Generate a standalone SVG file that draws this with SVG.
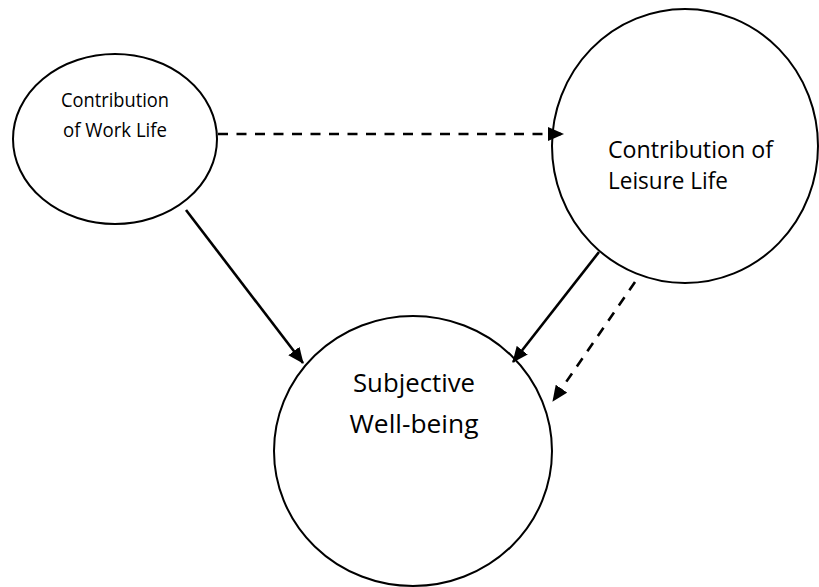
<svg xmlns="http://www.w3.org/2000/svg" width="819" height="587" viewBox="0 0 819 587">
<style>
.node{fill:#fff;stroke:#000;stroke-width:2}
.lbl{font-family:"Open Sans","Noto Sans",sans-serif;fill:#000}
.edge{stroke:#000;stroke-width:2.6;fill:none}
.dash{stroke-dasharray:10,8.5}
</style>
<defs>
<marker id="ah" markerUnits="userSpaceOnUse" markerWidth="16" markerHeight="14" viewBox="0 0 16 14" refX="15" refY="7" orient="auto">
<path d="M0,0 L16,7 L0,14 Z" fill="#000"/>
</marker>
</defs>
<rect width="819" height="587" fill="#fff"/>
<g id="work">
<ellipse class="node" cx="115" cy="139" rx="102" ry="85"/>
<text class="lbl" font-size="19.5" x="115" y="107" text-anchor="middle" textLength="108" lengthAdjust="spacingAndGlyphs">Contribution</text>
<text class="lbl" font-size="19.5" x="115" y="137" text-anchor="middle" textLength="104" lengthAdjust="spacingAndGlyphs">of Work Life</text>
</g>
<g id="leisure">
<ellipse class="node" cx="685" cy="146" rx="133" ry="137"/>
<text class="lbl" font-size="23" x="608" y="157.5" textLength="165" lengthAdjust="spacingAndGlyphs">Contribution of</text>
<text class="lbl" font-size="23" x="608" y="189" textLength="120" lengthAdjust="spacingAndGlyphs">Leisure Life</text>
</g>
<g id="wellbeing">
<ellipse class="node" cx="413" cy="451" rx="139" ry="135"/>
<text class="lbl" font-size="26" x="414" y="392" text-anchor="middle" textLength="122" lengthAdjust="spacingAndGlyphs">Subjective</text>
<text class="lbl" font-size="26" x="414" y="433" text-anchor="middle" textLength="129" lengthAdjust="spacingAndGlyphs">Well-being</text>
</g>
<g id="connectors">
<line class="edge dash" x1="218" y1="134" x2="563" y2="134" marker-end="url(#ah)"/>
<line class="edge" x1="186" y1="210" x2="303" y2="363" marker-end="url(#ah)"/>
<line class="edge" x1="599" y1="252" x2="513" y2="362" marker-end="url(#ah)"/>
<line class="edge dash" x1="635" y1="282" x2="553" y2="401" marker-end="url(#ah)"/>
</g>
</svg>
